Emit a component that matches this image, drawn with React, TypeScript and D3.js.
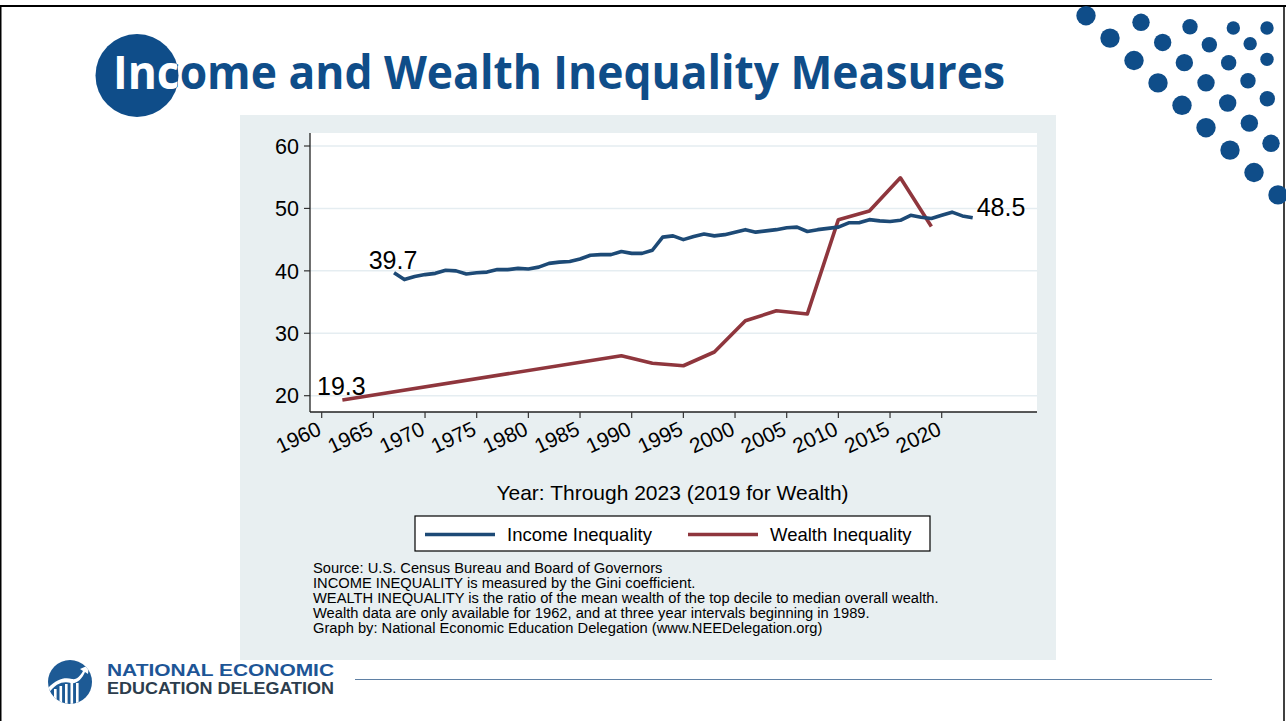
import React from 'react';
import * as d3 from 'd3';

// ---------- data ----------
const incomeYears = [
  1967, 1968, 1969, 1970, 1971, 1972, 1973, 1974, 1975, 1976, 1977, 1978, 1979,
  1980, 1981, 1982, 1983, 1984, 1985, 1986, 1987, 1988, 1989, 1990, 1991, 1992,
  1993, 1994, 1995, 1996, 1997, 1998, 1999, 2000, 2001, 2002, 2003, 2004, 2005,
  2006, 2007, 2008, 2009, 2010, 2011, 2012, 2013, 2014, 2015, 2016, 2017, 2018,
  2019, 2020, 2021, 2022, 2023,
];
const incomeValues = [
  39.7, 38.6, 39.1, 39.4, 39.6, 40.1, 40.0, 39.5, 39.7, 39.8, 40.2, 40.2, 40.4,
  40.3, 40.6, 41.2, 41.4, 41.5, 41.9, 42.5, 42.6, 42.6, 43.1, 42.8, 42.8, 43.3,
  45.4, 45.6, 45.0, 45.5, 45.9, 45.6, 45.8, 46.2, 46.6, 46.2, 46.4, 46.6, 46.9,
  47.0, 46.3, 46.6, 46.8, 47.0, 47.7, 47.7, 48.2, 48.0, 47.9, 48.1, 48.9, 48.6,
  48.4, 48.9, 49.4, 48.8, 48.5,
];
const wealthYears = [1962, 1989, 1992, 1995, 1998, 2001, 2004, 2007, 2010, 2013, 2016, 2019];
const wealthValues = [19.3, 26.4, 25.2, 24.8, 27.0, 32.0, 33.6, 33.1, 48.2, 49.6, 54.9, 47.1];

const yTicks = [20, 30, 40, 50, 60];
const xTicks = [1960, 1965, 1970, 1975, 1980, 1985, 1990, 1995, 2000, 2005, 2010, 2015, 2020];
const legendLabels = ['Income Inequality', 'Wealth Inequality'];
const titleText = 'Income and Wealth Inequality Measures';
const xAxisTitle = 'Year: Through 2023 (2019 for Wealth)';
const sourceLines = [
  'Source: U.S. Census Bureau and Board of Governors',
  'INCOME INEQUALITY is measured by the Gini coefficient.',
  'WEALTH INEQUALITY is the ratio of the mean wealth of the top decile to median overall wealth.',
  'Wealth data are only available for 1962, and at three year intervals beginning in 1989.',
  'Graph by: National Economic Education Delegation (www.NEEDelegation.org)',
];

// ---------- styles ----------
const INCOME_COLOR = '#1d4a76';
const WEALTH_COLOR = '#8f363d';
const BRAND = '#0f4d89';
const PANEL_BG = '#e8eff1';
const GRID = '#e5edf1';
const FONT = '"Liberation Sans", Arial, Helvetica, sans-serif';

// decorative dot diagonals (top-right ornament)
const dotDiagonals = [
  { x0: 1086, y0: 15.7, dx: 24, dy: 22.4, n: 9, r: 9.7 },
  { x0: 1141, y0: 22.3, dx: 21.67, dy: 20.17, n: 7, r: 8.7 },
  { x0: 1190, y0: 26.7, dx: 19.33, dy: 18, n: 5, r: 7.7 },
  { x0: 1233.3, y0: 28, dx: 16.85, dy: 15.67, n: 3, r: 6.7 },
  { x0: 1267, y0: 28, dx: 0, dy: 0, n: 1, r: 6.7 },
];

export default function App() {
  const W = 1286;
  const H = 721;
  const plot = { left: 310, right: 1037, top: 133, bottom: 412 };
  const x = d3.scaleLinear().domain([1960, 2020]).range([321.7, 941.7]);
  const y = d3.scaleLinear().domain([20, 60]).range([395.7, 146]);

  const line = d3
    .line<[number, number]>()
    .x((d) => x(d[0]))
    .y((d) => y(d[1]));

  const incomePts: [number, number][] = incomeYears.map((yr, i) => [yr, incomeValues[i]]);
  const wealthPts: [number, number][] = wealthYears.map((yr, i) => [yr, wealthValues[i]]);

  const incFirst = incomePts[0];
  const incLast = incomePts[incomePts.length - 1];
  const wFirst = wealthPts[0];

  const dots: { cx: number; cy: number; r: number }[] = [];
  dotDiagonals.forEach((d) => {
    for (let i = 0; i < d.n; i++) dots.push({ cx: d.x0 + d.dx * i, cy: d.y0 + d.dy * i, r: d.r });
  });

  const titleCircle = { cx: 137, cy: 75.5, r: 41.5 };

  return (
    <svg
      width={W}
      height={H}
      viewBox={`0 0 ${W} ${H}`}
      style={{ position: 'absolute', left: 0, top: 0, background: '#fff' }}
    >
      <defs>
        <clipPath id="titleClip">
          <circle cx={titleCircle.cx} cy={titleCircle.cy} r={titleCircle.r} />
        </clipPath>
        <clipPath id="logoClip">
          <circle cx={70} cy={682} r={22} />
        </clipPath>
      </defs>
      <rect x={0} y={0} width={W} height={H} fill="#fff" />

      {/* slide frame */}
      <line x1={0} x2={W} y1={6} y2={6} stroke="#000" strokeWidth={2} />
      <line x1={1284} x2={1284} y1={6} y2={H} stroke="#000" strokeWidth={1.5} />
      <line x1={0.75} x2={0.75} y1={6} y2={H} stroke="#000" strokeWidth={1.5} />

      {/* ornament dots */}
      {dots.map((d, i) => (
        <circle key={i} cx={d.cx} cy={d.cy} r={d.r} fill={BRAND} />
      ))}

      {/* title */}
      <text
        x={113}
        y={89}
        fontFamily='"Open Sans", "Noto Sans", sans-serif'
        fontWeight={700}
        fontSize={47}
        fill={BRAND}
        textLength={892}
        lengthAdjust="spacingAndGlyphs"
      >
        {titleText}
      </text>
      <circle cx={titleCircle.cx} cy={titleCircle.cy} r={titleCircle.r} fill={BRAND} />
      <text
        x={113}
        y={89}
        fontFamily='"Open Sans", "Noto Sans", sans-serif'
        fontWeight={700}
        fontSize={47}
        fill="#fff"
        textLength={892}
        lengthAdjust="spacingAndGlyphs"
        clipPath="url(#titleClip)"
      >
        {titleText}
      </text>

      {/* chart panel */}
      <rect x={240} y={115} width={816} height={545} fill={PANEL_BG} />
      <rect
        x={plot.left}
        y={plot.top}
        width={plot.right - plot.left}
        height={plot.bottom - plot.top}
        fill="#fff"
      />

      {/* gridlines + y axis */}
      {yTicks.map((t) => (
        <g key={t}>
          <line x1={plot.left} x2={plot.right} y1={y(t)} y2={y(t)} stroke={GRID} strokeWidth={1.5} />
          <line x1={plot.left - 6} x2={plot.left} y1={y(t)} y2={y(t)} stroke="#333" strokeWidth={1.2} />
          <text
            x={plot.left - 11}
            y={y(t)}
            dy="0.36em"
            textAnchor="end"
            fontFamily={FONT}
            fontSize={21.5}
            fill="#000"
          >
            {t}
          </text>
        </g>
      ))}
      <line x1={plot.left} x2={plot.left} y1={plot.top} y2={plot.bottom} stroke="#222" strokeWidth={1.3} />
      <line x1={plot.left} x2={plot.right} y1={plot.bottom} y2={plot.bottom} stroke="#222" strokeWidth={1.3} />

      {/* x axis */}
      {xTicks.map((t) => (
        <g key={t}>
          <line x1={x(t)} x2={x(t)} y1={plot.bottom} y2={plot.bottom + 6} stroke="#333" strokeWidth={1.2} />
          <text
            transform={`translate(${x(t) + 1},434) rotate(-25)`}
            textAnchor="end"
            fontFamily={FONT}
            fontSize={21}
            fill="#000"
          >
            {t}
          </text>
        </g>
      ))}

      {/* series */}
      <path d={line(wealthPts) || ''} fill="none" stroke={WEALTH_COLOR} strokeWidth={3.6} strokeLinejoin="round" />
      <path d={line(incomePts) || ''} fill="none" stroke={INCOME_COLOR} strokeWidth={3.6} strokeLinejoin="round" />

      {/* end labels */}
      <text x={x(incFirst[0]) - 1} y={y(incFirst[1]) - 4} textAnchor="middle" fontFamily={FONT} fontSize={25} fill="#000">
        {incFirst[1].toFixed(1)}
      </text>
      <text x={x(wFirst[0]) - 1} y={y(wFirst[1]) - 5} textAnchor="middle" fontFamily={FONT} fontSize={25} fill="#000">
        {wFirst[1].toFixed(1)}
      </text>
      <text x={x(incLast[0]) + 4} y={y(incLast[1]) - 2} textAnchor="start" fontFamily={FONT} fontSize={25} fill="#000">
        {incLast[1].toFixed(1)}
      </text>

      {/* x axis title */}
      <text x={672.5} y={500} textAnchor="middle" fontFamily={FONT} fontSize={21} fill="#000">
        {xAxisTitle}
      </text>

      {/* legend */}
      <rect x={415} y={516} width={515} height={35} fill="#fff" stroke="#000" strokeWidth={1.2} />
      <line x1={425} x2={495} y1={534.5} y2={534.5} stroke={INCOME_COLOR} strokeWidth={3.6} />
      <text x={507} y={541} fontFamily={FONT} fontSize={18.5} fill="#000">
        {legendLabels[0]}
      </text>
      <line x1={688} x2={758} y1={534.5} y2={534.5} stroke={WEALTH_COLOR} strokeWidth={3.6} />
      <text x={770} y={541} fontFamily={FONT} fontSize={18.5} fill="#000">
        {legendLabels[1]}
      </text>

      {/* source notes */}
      {sourceLines.map((s, i) => (
        <text key={i} x={313} y={572.5 + i * 15.2} fontFamily={FONT} fontSize={14.7} fill="#000">
          {s}
        </text>
      ))}

      {/* footer logo */}
      <circle cx={70} cy={682} r={22} fill="#1d5a95" />
      <g clipPath="url(#logoClip)" fill="#fff">
        <rect x={54} y={689} width={2.6} height={20} />
        <rect x={59.5} y={686} width={2.6} height={22} />
        <rect x={65} y={684} width={2.6} height={24} />
        <rect x={70.5} y={682} width={2.6} height={26} />
        <rect x={76} y={683} width={2.6} height={25} />
        <path d="M46,690 C56,679 64,677 72,679 C77,680 80,676 83,671 L80,669 L89,665 L88,674 L85,672 C82,679 77,684 71,683 C63,681 56,683 48,694 Z" />
      </g>
      <text x={107} y={676} fontFamily={FONT} fontWeight={700} fontSize={17} fill="#1d5596" textLength={227} lengthAdjust="spacingAndGlyphs">
        NATIONAL ECONOMIC
      </text>
      <text x={107} y={694} fontFamily={FONT} fontWeight={700} fontSize={17} fill="#2c3d4d" textLength={227} lengthAdjust="spacingAndGlyphs">
        EDUCATION DELEGATION
      </text>
      <line x1={355} x2={1212} y1={679.5} y2={679.5} stroke="#5f80a4" strokeWidth={1} />
    </svg>
  );
}
